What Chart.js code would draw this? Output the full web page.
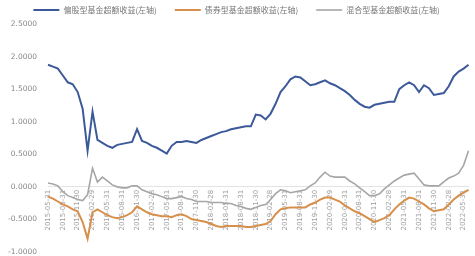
<!DOCTYPE html>
<html>
<head>
<meta charset="utf-8">
<script src="https://cdn.jsdelivr.net/npm/chart.js@4/dist/chart.umd.min.js"></script>
<style>
  html, body { margin:0; padding:0; background:#fff; }
  #wrap { width:475px; height:256px; }
</style>
</head>
<body>
<div id="wrap"><canvas id="c"></canvas></div>
<script>
// month-end dates (category axis)
const months = [
  '2015-05-31','2015-06-30','2015-07-31','2015-08-31','2015-09-30','2015-10-31','2015-11-30','2015-12-31',
  '2016-01-31','2016-02-29','2016-03-31','2016-04-30','2016-05-31','2016-06-30','2016-07-31','2016-08-31','2016-09-30','2016-10-31','2016-11-30','2016-12-31',
  '2017-01-31','2017-02-28','2017-03-31','2017-04-30','2017-05-31','2017-06-30','2017-07-31','2017-08-31','2017-09-30','2017-10-31','2017-11-30','2017-12-31',
  '2018-01-31','2018-02-28','2018-03-31','2018-04-30','2018-05-31','2018-06-30','2018-07-31','2018-08-31','2018-09-30','2018-10-31','2018-11-30','2018-12-31',
  '2019-01-31','2019-02-28','2019-03-31','2019-04-30','2019-05-31','2019-06-30','2019-07-31','2019-08-31','2019-09-30','2019-10-31','2019-11-30','2019-12-31',
  '2020-01-31','2020-02-29','2020-03-31','2020-04-30','2020-05-31','2020-06-30','2020-07-31','2020-08-31','2020-09-30','2020-10-31','2020-11-30','2020-12-31',
  '2021-01-31','2021-02-28','2021-03-31','2021-04-30','2021-05-31','2021-06-30','2021-07-31','2021-08-31','2021-09-30','2021-10-31','2021-11-30','2021-12-31',
  '2022-01-31','2022-02-28','2022-03-31','2022-04-30','2022-05-31','2022-06-30'
];

const seriesNames = ['偏股型基金超额收益(左轴)', '债券型基金超额收益(左轴)', '混合型基金超额收益(左轴)'];

// blue
const blueVals = [
  1.875,1.845,1.815,1.71,1.605,1.575,1.455,1.2,0.555,1.155,
  0.72,0.675,0.63,0.6,0.645,0.66,0.675,0.69,0.885,0.705,
  0.675,0.63,0.6,0.555,0.51,0.63,0.69,0.69,0.705,0.69,
  0.675,0.72,0.75,0.78,0.81,0.84,0.855,0.885,0.9,0.915,
  0.93,0.93,1.11,1.095,1.035,1.125,1.275,1.455,1.545,1.65,
  1.695,1.68,1.62,1.56,1.575,1.605,1.635,1.59,1.56,1.515,
  1.47,1.41,1.335,1.275,1.23,1.215,1.26,1.275,1.29,1.305,
  1.305,1.5,1.56,1.605,1.56,1.455,1.56,1.515,1.41,1.425,
  1.44,1.545,1.695,1.77,1.815,1.875
];

// orange
const orangeVals = [
  -0.15,-0.18,-0.225,-0.27,-0.3,-0.345,-0.375,-0.54,-0.795,-0.39,
  -0.345,-0.39,-0.435,-0.465,-0.48,-0.465,-0.435,-0.39,-0.3,-0.345,
  -0.39,-0.42,-0.435,-0.45,-0.45,-0.465,-0.435,-0.42,-0.45,-0.495,
  -0.51,-0.525,-0.54,-0.57,-0.6,-0.615,-0.6,-0.6,-0.6,-0.6,
  -0.615,-0.615,-0.6,-0.585,-0.57,-0.525,-0.42,-0.345,-0.33,-0.315,
  -0.315,-0.315,-0.315,-0.27,-0.24,-0.195,-0.165,-0.165,-0.195,-0.225,
  -0.285,-0.33,-0.375,-0.405,-0.45,-0.495,-0.54,-0.51,-0.48,-0.435,
  -0.345,-0.27,-0.21,-0.165,-0.18,-0.225,-0.27,-0.33,-0.375,-0.36,
  -0.345,-0.27,-0.195,-0.135,-0.09,-0.045
];

// gray
const grayVals = [
  0.06,0.045,0.015,-0.075,-0.135,-0.165,-0.195,-0.21,-0.12,0.285,
  0.075,0.15,0.09,0.03,0,-0.015,-0.015,0.015,0.015,-0.045,
  -0.075,-0.105,-0.12,-0.15,-0.18,-0.18,-0.165,-0.15,-0.18,-0.195,
  -0.225,-0.225,-0.225,-0.24,-0.24,-0.24,-0.255,-0.255,-0.285,-0.3,
  -0.33,-0.345,-0.315,-0.285,-0.27,-0.195,-0.105,-0.045,-0.06,-0.09,
  -0.075,-0.06,-0.045,0.015,0.06,0.15,0.225,0.165,0.15,0.15,
  0.15,0.09,0.045,-0.015,-0.075,-0.135,-0.135,-0.105,-0.03,0.03,
  0.09,0.135,0.18,0.195,0.21,0.12,0.03,0.015,0.015,0.015,
  0.075,0.135,0.165,0.21,0.33,0.555
];

const yMin = -1, yMax = 2.5, yStep = 0.5;

const colors = ['#3c5a99', '#d6904b', '#a6a6a6'];

new Chart(document.getElementById('c'), {
  type: 'line',
  data: {
    labels: months,
    datasets: [
      { label: seriesNames[0], data: blueVals, borderColor: colors[0], backgroundColor: colors[0], borderWidth: 2, pointRadius: 0, tension: 0 },
      { label: seriesNames[1], data: orangeVals, borderColor: colors[1], backgroundColor: colors[1], borderWidth: 2, pointRadius: 0, tension: 0 },
      { label: seriesNames[2], data: grayVals, borderColor: colors[2], backgroundColor: colors[2], borderWidth: 1.6, pointRadius: 0, tension: 0 }
    ]
  },
  options: {
    responsive: true,
    maintainAspectRatio: false,
    animation: false,
    // legend padding is wide for horizontal spacing, pull the whole block up
    layout: { padding: { left: 0, right: 2, top: -12, bottom: 4 } },
    plugins: {
      legend: {
        position: 'top',
        labels: {
          usePointStyle: true,
          pointStyle: 'line',
          pointStyleWidth: 26,
          boxHeight: 4,
          padding: 18,
          color: '#777',
          font: { family: 'Noto Sans CJK SC', size: 8, lineHeight: 1 }
        }
      },
      tooltip: { enabled: false }
    },
    scales: {
      x: {
        position: { y: 0 },
        grid: { display: false, drawTicks: false },
        border: { display: true, color: '#e3e3e3' },
        ticks: {
          autoSkip: false,
          minRotation: 90,
          maxRotation: 90,
          padding: 3,
          color: '#a0a0a0',
          font: { family: 'DejaVu Sans', size: 7 },
          callback: function(v, i) { return i % 3 === 0 ? this.getLabelForValue(v) : null; }
        }
      },
      y: {
        min: yMin, max: yMax,
        ticks: {
          stepSize: yStep,
          padding: 3,
          color: '#888',
          font: { family: 'DejaVu Sans', size: 7.5 },
          callback: v => v.toFixed(4)
        },
        grid: { display: false },
        border: { display: false },
        afterFit: s => { s.width = 48; s.paddingTop = 0; s.paddingBottom = 0; }
      }
    }
  }
});
</script>
</body>
</html>
